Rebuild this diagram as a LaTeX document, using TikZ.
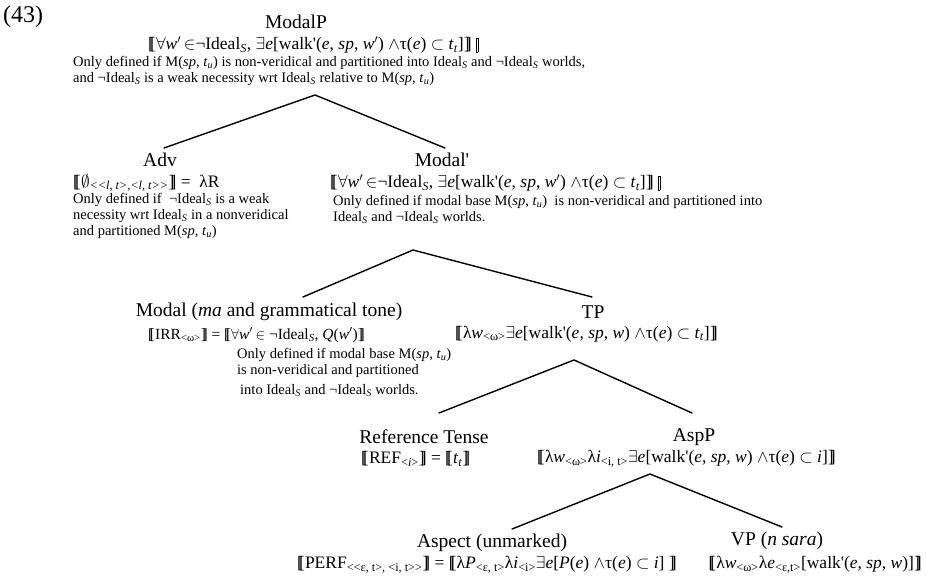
\documentclass[tikz,border=0pt]{standalone}
\usepackage{fontspec}
\setmainfont{Liberation Serif}
\newcommand\Lb{[\kern-0.22em[}
\newcommand\Rb{]\kern-0.22em]}
\newcommand\IdS{Ideal\textsubscript{\textit{S}}}
\newcommand\Qall{$\forall$}
\newcommand\Qex{$\exists$}
\newcommand\Qin{$\in$}
\newcommand\Qand{$\wedge$}
\newcommand\Qsub{$\subset$}
\newcommand\Qnull{$\emptyset$}
\newcommand\Qpr{$'$}
\newcommand\Qq{\textquotesingle}
\newcommand\Qbox{\kern4pt\raisebox{-0.15em}{\setlength{\fboxsep}{0pt}\setlength{\fboxrule}{0.5pt}\framebox[0.16em]{\rule{0pt}{0.78em}}}}
\begin{document}
\begin{tikzpicture}[x=1pt,y=-1pt,
 lab/.style={font=\fontsize{19.5}{22}\selectfont, inner sep=0pt},
 frm/.style={font=\fontsize{17.5}{20}\selectfont, inner sep=0pt, anchor=west},
 note/.style={font=\fontsize{14.5}{15.8}\selectfont, inner sep=0pt, anchor=north west, align=left},
 branch/.style={line width=1.4pt, line cap=round}]
\useasboundingbox (0,0) rectangle (926,577);

\node[font=\fontsize{24}{26}\selectfont, inner sep=0pt, anchor=west] (ex) at (3,17) {(43)};

% ModalP
\node[lab] (modalP) at (296,22) {ModalP};
\node[frm] (modalPf) at (148,45) {\Lb\Qall\textit{w}\Qpr\,\Qin¬\IdS, \Qex\textit{e}[walk\Qq(\textit{e}, \textit{sp}, \textit{w}\Qpr) \Qand τ(\textit{e}) \Qsub{} \textit{t}\textsubscript{\textit{t}}]\Rb\Qbox};
\node[note] (modalPn) at (73,56) {Only defined if M(\textit{sp}, \textit{t}\textsubscript{\textit{u}}) is non-veridical and partitioned into \IdS{} and ¬\IdS{} worlds,\\and ¬\IdS{} is a weak necessity wrt \IdS{} relative to M(\textit{sp}, \textit{t}\textsubscript{\textit{u}})};

% Adv
\node[lab] (adv) at (160,160) {Adv};
\node[frm] (advf) at (73,183) {\Lb\Qnull\textsubscript{\textit{<\kern0pt<l, t>,<l, t>\kern0pt>}}\Rb{} = \ λR};
\node[note] (advn) at (73,193) {Only defined if \ ¬\IdS{} is a weak\\necessity wrt \IdS{} in a nonveridical\\and partitioned M(\textit{sp}, \textit{t}\textsubscript{\textit{u}})};

% Modal'
\node[lab] (modalbar) at (442,160) {Modal\Qq};
\node[frm] (modalbarf) at (330,183) {\Lb\Qall\textit{w}\Qpr\,\Qin¬\IdS, \Qex\textit{e}[walk\Qq(\textit{e}, \textit{sp}, \textit{w}\Qpr) \Qand τ(\textit{e}) \Qsub{} \textit{t}\textsubscript{\textit{t}}]\Rb\Qbox};
\node[note] (modalbarn) at (333,195) {Only defined if modal base M(\textit{sp}, \textit{t}\textsubscript{\textit{u}}) \ is non-veridical and partitioned into\\\IdS{} and ¬\IdS{} worlds.};

% Modal
\node[lab] (modal) at (269,312) {Modal (\textit{ma} and grammatical tone)};
\node[frm, font=\fontsize{15.5}{18}\selectfont] (modalf) at (148,335) {\Lb IRR\textsubscript{<ω>}\Rb{} = \Lb\Qall\textit{w}\Qpr\,\Qin{} ¬\IdS, \textit{Q}(\textit{w}\Qpr)\Rb};
\node[note] (modaln) at (237,348) {Only defined if modal base M(\textit{sp}, \textit{t}\textsubscript{\textit{u}})\\is non-veridical and partitioned\\[4pt]\kern3pt into \IdS{} and ¬\IdS{} worlds.};

% TP
\node[lab] (tp) at (593,312) {TP};
\node[frm] (tpf) at (455,334) {\Lb λ\textit{w}\textsubscript{<ω>}\Qex\textit{e}[walk\Qq(\textit{e}, \textit{sp}, \textit{w}) \Qand τ(\textit{e}) \Qsub{} \textit{t}\textsubscript{\textit{t}}]\Rb};

% Reference Tense
\node[lab] (ref) at (424,437) {Reference Tense};
\node[frm] (reff) at (361,459) {\Lb REF\textsubscript{<\textit{i}>}\Rb{} = \Lb\textit{t}\textsubscript{\textit{t}}\Rb};

% AspP
\node[lab] (aspp) at (694,437) {AspP};
\node[frm] (asppf) at (537,459) {\Lb λ\textit{w}\textsubscript{<ω>}λ\textit{i}\textsubscript{<i, t>}\Qex\textit{e}[walk\Qq(\textit{e}, \textit{sp}, \textit{w}) \Qand τ(\textit{e}) \Qsub{} \textit{i}]\Rb};

% Aspect
\node[lab] (asp) at (492,543) {Aspect (unmarked)};
\node[frm] (aspf) at (297,565) {\Lb PERF\textsubscript{<\kern0pt<ε, t>, <i, t>\kern0pt>}\Rb{} = \Lb λ\textit{P}\textsubscript{<ε, t>}λ\textit{i}\textsubscript{<i>}\Qex\textit{e}[\textit{P}(\textit{e}) \Qand τ(\textit{e}) \Qsub{} \textit{i}] \Rb};

% VP
\node[lab] (vp) at (777,541) {VP (\textit{n sara})};
\node[frm, anchor=east] (vpf) at (922,565) {\Lb λ\textit{w}\textsubscript{<ω>}λ\textit{e}\textsubscript{<ε,t>}[walk\Qq(\textit{e}, \textit{sp}, \textit{w})]\Rb};

% branches
\coordinate (t1) at (315,95);
\coordinate (t1l) at (164,148);
\coordinate (t1r) at (445,148);
\coordinate (t2) at (413,250);
\coordinate (t2l) at (303,297);
\coordinate (t2r) at (592,297);
\coordinate (t3) at (574,360);
\coordinate (t3l) at (439,413);
\coordinate (t3r) at (692,413);
\coordinate (t4) at (650,474);
\coordinate (t4l) at (512,529);
\coordinate (t4r) at (782,527);
\draw[branch] (t1l) -- (t1) -- (t1r);
\draw[branch] (t2l) -- (t2) -- (t2r);
\draw[branch] (t3l) -- (t3) -- (t3r);
\draw[branch] (t4l) -- (t4) -- (t4r);
\end{tikzpicture}
\end{document}
